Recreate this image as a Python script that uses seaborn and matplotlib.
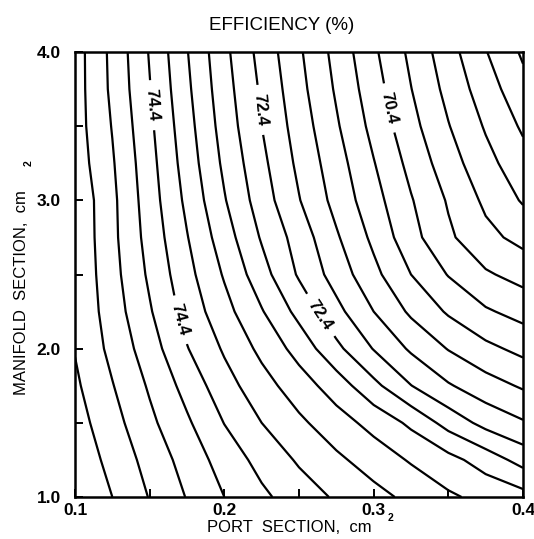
import numpy as np
import pandas as pd
import seaborn as sns
import matplotlib
matplotlib.use("Agg")
import matplotlib.pyplot as plt
from matplotlib.ticker import FixedLocator

# Port section (cm^2) grid columns and manifold section (cm^2) grid rows
port_section = [0.1, 0.125, 0.15, 0.175, 0.2, 0.225, 0.25, 0.275, 0.3, 0.325, 0.35, 0.375, 0.4]
manifold_section = [4.0, 3.75, 3.5, 3.25, 3.0, 2.75, 2.5, 2.25, 2.0, 1.75, 1.5, 1.25, 1.0]

# Efficiency (%), one row per manifold section (top to bottom)
eff_m400 = [75.78, 75.10, 74.37, 73.62, 72.90, 72.26, 71.66, 71.07, 70.47, 69.91, 69.36, 68.82, 68.34]
eff_m375 = [75.78, 75.12, 74.42, 73.68, 72.96, 72.34, 71.73, 71.15, 70.57, 70.01, 69.48, 68.99, 68.53]
eff_m350 = [75.78, 75.18, 74.48, 73.75, 73.03, 72.40, 71.82, 71.25, 70.68, 70.13, 69.62, 69.16, 68.74]
eff_m325 = [75.82, 75.24, 74.54, 73.82, 73.12, 72.50, 71.91, 71.37, 70.82, 70.28, 69.78, 69.33, 68.95]
eff_m300 = [75.92, 75.29, 74.59, 73.91, 73.23, 72.60, 72.02, 71.47, 70.95, 70.43, 69.96, 69.52, 69.16]
eff_m275 = [75.93, 75.30, 74.65, 74.02, 73.39, 72.76, 72.23, 71.65, 71.11, 70.54, 70.07, 69.71, 69.48]
eff_m250 = [75.94, 75.34, 74.73, 74.13, 73.56, 72.96, 72.35, 71.83, 71.31, 70.80, 70.38, 70.05, 69.86]
eff_m225 = [75.95, 75.40, 74.84, 74.25, 73.74, 73.23, 72.68, 72.12, 71.60, 71.13, 70.75, 70.45, 70.26]
eff_m200 = [75.98, 75.49, 74.99, 74.42, 73.95, 73.50, 73.05, 72.50, 71.98, 71.54, 71.18, 70.90, 70.69]
eff_m175 = [76.07, 75.62, 75.15, 74.66, 74.16, 73.76, 73.39, 73.01, 72.51, 72.01, 71.64, 71.37, 71.15]
eff_m150 = [76.17, 75.75, 75.29, 74.86, 74.39, 74.00, 73.68, 73.37, 73.07, 72.72, 72.25, 71.87, 71.64]
eff_m125 = [76.29, 75.87, 75.46, 75.04, 74.63, 74.27, 73.95, 73.68, 73.42, 73.16, 72.93, 72.62, 72.25]
eff_m100 = [76.41, 76.00, 75.58, 75.18, 74.80, 74.48, 74.20, 73.95, 73.73, 73.50, 73.26, 73.09, 72.95]

contour_levels = [68.4, 68.8, 69.2, 69.6, 70.0, 70.4, 70.8, 71.2, 71.6, 72.0, 72.4, 72.8,
                  73.2, 73.6, 74.0, 74.4, 74.8, 75.2, 75.6, 76.0]
labelled_levels = [70.4, 72.4, 74.4]

x_tick_values = [0.1, 0.2, 0.3, 0.4]
x_tick_labels = ["0.1", "0.2", "0.3", "0.4"]
y_tick_values = [1.0, 2.0, 3.0, 4.0]
y_tick_labels = ["1.0", "2.0", "3.0", "4.0"]

rows = [eff_m400, eff_m375, eff_m350, eff_m325, eff_m300, eff_m275, eff_m250,
        eff_m225, eff_m200, eff_m175, eff_m150, eff_m125, eff_m100]
df = pd.DataFrame(rows, index=manifold_section, columns=port_section).sort_index()

sns.set_theme(style="white")
plt.rcParams["font.family"] = ["Liberation Sans", "DejaVu Sans"]
plt.rcParams["text.color"] = "black"
plt.rcParams["axes.labelcolor"] = "black"
plt.rcParams["xtick.color"] = "black"
plt.rcParams["ytick.color"] = "black"

W, H = 534, 539
fig = plt.figure(figsize=(W / 100, H / 100), dpi=100)
ax = fig.add_axes([75 / W, 1 - 497 / H, (523 - 75) / W, (497 - 52) / H])

X, Y = np.meshgrid(df.columns.values, df.index.values)
plain_levels = [lv for lv in contour_levels if lv not in labelled_levels]
ax.contour(X, Y, df.values, levels=plain_levels, colors="black", linewidths=1.6)
cs_lab = ax.contour(X, Y, df.values, levels=labelled_levels, colors="black", linewidths=1.6)

label_spots = [(0.150, 3.64), (0.2245, 3.61), (0.309, 3.62), (0.169, 2.19), (0.262, 2.21)]
texts = ax.clabel(cs_lab, manual=label_spots, inline=True,
                  inline_spacing=9, fmt="%.1f", fontsize=12)
for t in texts:
    t.set_fontweight("bold")
    t.set_color("black")

ax.set_xlim(0.1, 0.4)
ax.set_ylim(1.0, 4.0)
ax.xaxis.set_major_locator(FixedLocator(x_tick_values))
ax.set_xticklabels(x_tick_labels)
ax.xaxis.set_minor_locator(FixedLocator([0.15, 0.25, 0.35]))
ax.yaxis.set_major_locator(FixedLocator(y_tick_values))
ax.set_yticklabels(y_tick_labels)
ax.yaxis.set_minor_locator(FixedLocator([1.5, 2.5, 3.5]))
ax.tick_params(which="both", direction="in", length=6, width=1.4, color="black",
               bottom=True, left=True, top=False, right=False)
ax.tick_params(axis="x", which="major", pad=4, labelsize=12.5, labelcolor="black")
ax.tick_params(axis="y", which="major", pad=10, labelsize=12.5, labelcolor="black")
for lab in ax.get_xticklabels() + ax.get_yticklabels():
    lab.set_fontweight("bold")
for sp in ax.spines.values():
    sp.set_color("black")
    sp.set_linewidth(1.8)
ax.grid(False)

fig.text(282 / W, 1 - 26 / H, "EFFICIENCY (%)", ha="center", va="center", fontsize=13.5)
fig.text(289 / W, 1 - 528 / H, "PORT  SECTION,  cm", ha="center", va="center", fontsize=12)
fig.text(391 / W, 1 - 518 / H, "2", ha="center", va="center", fontsize=7.5, fontweight="bold")
fig.text(22 / W, 1 - 293 / H, "MANIFOLD  SECTION,  cm", ha="center", va="center",
         fontsize=12, rotation=90)
fig.text(29 / W, 1 - 163 / H, "2", ha="center", va="center", fontsize=7.5,
         fontweight="bold", rotation=90)

fig.savefig("out.png", dpi=100, facecolor="white")
